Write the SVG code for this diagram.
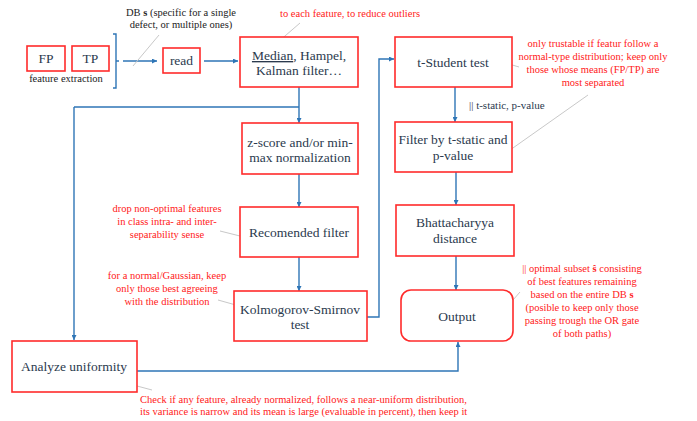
<svg xmlns="http://www.w3.org/2000/svg" width="697" height="421" viewBox="0 0 697 421">
<style>
text{font-family:'Liberation Serif','Times New Roman',Times,'DejaVu Serif',serif}
.box{fill:#fff;stroke:#ff2b2b;stroke-width:1.6}
.t{font-size:13.5px;fill:#2b3a4e;text-anchor:middle}
.r{font-size:10.5px;fill:#ff2020;text-anchor:middle}
.rs{font-size:10.5px;fill:#ff2020;text-anchor:start}
.k{font-size:10.5px;fill:#222;text-anchor:middle}
.c{fill:none;stroke:#2e75b6;stroke-width:1.4}
.ar{fill:none;stroke:#2e75b6;stroke-width:1.4;marker-end:url(#ah)}
.g{stroke:#c8c8c8;stroke-width:1}
</style>
<defs>
<marker id="ah" viewBox="0 0 10 10" refX="10" refY="5" markerWidth="5" markerHeight="5" orient="auto" markerUnits="userSpaceOnUse"><path d="M0,0 L10,5 L0,10 z" fill="#2e75b6"/></marker>
</defs>
<rect width="697" height="421" fill="#fff"/>

<g id="connectors">
<path class="c" d="M113,34 H116 V88 H113 M116,61 H119"/>
<path class="ar" d="M123,61 H157"/>
<path class="ar" d="M204,61 H238"/>
<path class="ar" d="M299,87 V123"/>
<path class="c" d="M299,107 H74"/>
<path class="ar" d="M74,107 V340"/>
<path class="ar" d="M299,174 V207"/>
<path class="ar" d="M299,257 V291"/>
<path class="ar" d="M367,317 H379 V59 H394"/>
<path class="ar" d="M455,87 V122"/>
<path class="ar" d="M456,172 V205"/>
<path class="ar" d="M456,256 V290"/>
<path class="ar" d="M137,371 H458 V342"/>
</g>

<g id="leaders">
<line class="g" x1="133" y1="66" x2="159" y2="35"/>
<line class="g" x1="278" y1="42" x2="300" y2="23"/>
<line class="g" x1="489" y1="58" x2="519" y2="67"/>
<line class="g" x1="503" y1="155" x2="588" y2="95"/>
<line class="g" x1="220" y1="231" x2="248" y2="238"/>
<line class="g" x1="218" y1="300" x2="243" y2="307"/>
<line class="g" x1="493" y1="323" x2="520" y2="292"/>
<line class="g" x1="122" y1="382" x2="152" y2="390"/>
</g>

<g id="FP"><rect class="box" x="27" y="46" width="38" height="25"/><text class="t" x="46" y="63" font-size="14">FP</text></g>
<g id="TP"><rect class="box" x="72" y="46" width="37" height="25"/><text class="t" x="90.5" y="63" font-size="14">TP</text></g>
<text class="k" x="66" y="82">feature extraction</text>
<text class="k" x="181" y="16">DB <tspan font-weight="bold">s</tspan> (specific for a single</text>
<text class="k" x="181" y="28">defect, or multiple ones)</text>

<g id="read"><rect class="box" x="163" y="48" width="37" height="25"/><text class="t" x="181.5" y="65">read</text></g>

<g id="median"><rect class="box" x="240" y="37" width="118" height="50"/>
<text class="t" x="299" y="60"><tspan text-decoration="underline">Median</tspan>, Hampel,</text>
<text class="t" x="299" y="75">Kalman filter…</text></g>
<text class="r" x="350" y="17">to each feature, to reduce outliers</text>

<g id="zscore"><rect class="box" x="242" y="123" width="116" height="51"/>
<text class="t" x="300" y="147">z-score and/or min-</text>
<text class="t" x="300" y="162">max normalization</text></g>

<g id="recfilter"><rect class="box" x="240" y="207" width="118" height="50"/>
<text class="t" x="299" y="237">Recomended filter</text></g>
<text class="r" x="167" y="212">drop non-optimal features</text>
<text class="r" x="167" y="225">in class intra- and inter-</text>
<text class="r" x="167" y="238">separability sense</text>

<g id="ks"><rect class="box" x="234" y="291" width="133" height="50"/>
<text class="t" x="300" y="314">Kolmogorov-Smirnov</text>
<text class="t" x="300" y="329">test</text></g>
<text class="r" x="167" y="279">for a normal/Gaussian, keep</text>
<text class="r" x="167" y="292">only those best agreeing</text>
<text class="r" x="167" y="305">with the distribution</text>

<g id="tstudent"><rect class="box" x="395" y="37" width="117" height="50"/>
<text class="t" x="453" y="67">t-Student test</text></g>
<text class="r" x="593" y="47">only trustable if featur follow a</text>
<text class="r" x="593" y="60">normal-type distribution; keep only</text>
<text class="r" x="593" y="73">those whose means (FP/TP) are</text>
<text class="r" x="593" y="86">most separated</text>
<text x="469" y="109" font-size="11" fill="#2b3a4e">|| t-static, p-value</text>

<g id="filter"><rect class="box" x="395" y="122" width="117" height="50"/>
<text class="t" x="453" y="144">Filter by t-static and</text>
<text class="t" x="453" y="160">p-value</text></g>

<g id="bhatta"><rect class="box" x="396" y="205" width="118" height="51"/>
<text class="t" x="455" y="227">Bhattacharyya</text>
<text class="t" x="455" y="243">distance</text></g>

<g id="output"><rect class="box" x="401" y="290" width="112" height="51" rx="10"/>
<text class="t" x="457" y="321">Output</text></g>
<text class="r" x="582" y="272">|| optimal subset <tspan font-weight="bold">ŝ</tspan> consisting</text>
<text class="r" x="582" y="285">of best features remaining</text>
<text class="r" x="582" y="298">based on the entire DB <tspan font-weight="bold">s</tspan></text>
<text class="r" x="582" y="311">(posible to keep only those</text>
<text class="r" x="582" y="324">passing trough the OR gate</text>
<text class="r" x="582" y="337">of both paths)</text>

<g id="uniform"><rect class="box" x="12" y="341" width="125" height="51"/>
<text class="t" x="74" y="371">Analyze uniformity</text></g>
<text class="rs" x="140" y="403">Check if any feature, already normalized, follows a near-uniform distribution,</text>
<text class="rs" x="140" y="415">its variance is narrow and its mean is large (evaluable in percent), then keep it</text>
</svg>
